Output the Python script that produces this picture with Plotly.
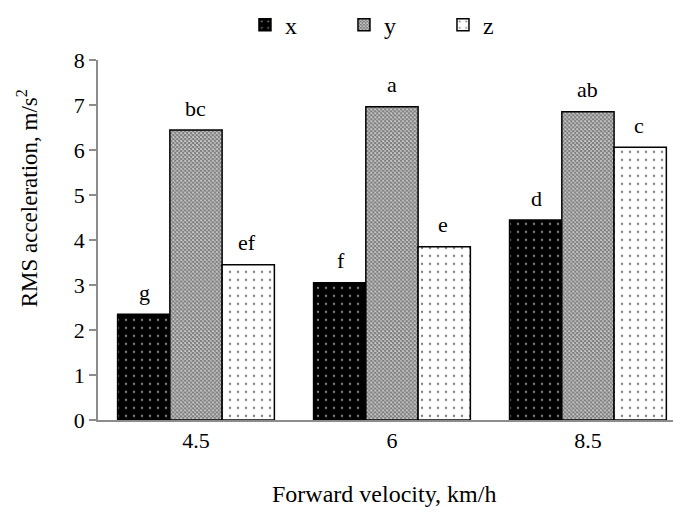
import plotly.graph_objects as go

categories = ["4.5", "6", "8.5"]
x_vals = [2.35, 3.05, 4.44]
y_vals = [6.44, 6.96, 6.85]
z_vals = [3.45, 3.85, 6.06]
x_letters = ["g", "f", "d"]
y_letters = ["bc", "a", "ab"]
z_letters = ["ef", "e", "c"]
series_names = ["x", "y", "z"]

FONT = "Liberation Serif"

fig = go.Figure()
styles = [
    dict(bg="black", fg="white", shape=".", size=8, solidity=0.07),
    dict(bg="white", fg="black", shape="x", size=2.8, solidity=0.8),
    dict(bg="white", fg="black", shape=".", size=8, solidity=0.07),
]
for name, vals, st in zip(series_names, [x_vals, y_vals, z_vals], styles):
    fig.add_trace(go.Bar(
        name=name, x=categories, y=vals,
        marker=dict(color=st["bg"],
                    line=dict(color="black", width=1.5),
                    pattern=dict(shape=st["shape"], fgcolor=st["fg"], bgcolor=st["bg"],
                                 size=st["size"], solidity=st["solidity"], fillmode="overlay")),
    ))

# letter annotations (x given as category index on the category axis)
shifts = [-51, 0, 51]
for letters, vals, sh in zip([x_letters, y_letters, z_letters], [x_vals, y_vals, z_vals], shifts):
    for i, (v, t) in enumerate(zip(vals, letters)):
        fig.add_annotation(x=i, y=v, xref="x", yref="y", text=t, showarrow=False,
                           xshift=sh, yshift=22, yanchor="middle",
                           font=dict(family=FONT, size=22, color="black"))

fig.add_annotation(text="RMS acceleration, m/s<sup>2</sup>", textangle=-90, showarrow=False,
                   xref="paper", yref="paper", x=-0.122, y=0.615, xanchor="center", yanchor="middle",
                   font=dict(family=FONT, size=23, color="black"))
fig.add_annotation(text="Forward velocity, km/h", showarrow=False,
                   xref="paper", yref="paper", x=0.497, y=-0.206, xanchor="center", yanchor="middle",
                   font=dict(family=FONT, size=24, color="black"))

fig.update_layout(
    width=673, height=513,
    margin=dict(l=98, r=0, t=56, b=93),
    paper_bgcolor="white", plot_bgcolor="white",
    barmode="group", bargap=0.2, bargroupgap=0,
    font=dict(family=FONT, color="black"),
    legend=dict(orientation="h", xref="container", yref="container", x=0.364, y=0.995,
                xanchor="left", yanchor="top", entrywidth=54, entrywidthmode="pixels",
                font=dict(family=FONT, size=24, color="black"), itemclick=False),
    xaxis=dict(type="category", range=[-0.5, 2.434], showline=True, linecolor="#8c8c8c", linewidth=2,
               ticks="", showgrid=False, tickfont=dict(family=FONT, size=22, color="black")),
    yaxis=dict(range=[0, 8], dtick=1, showline=True, linecolor="#8c8c8c", linewidth=1.5,
               ticks="outside", ticklen=7, tickcolor="#8c8c8c", tickwidth=1.5,
               showgrid=False, zeroline=False,
               tickfont=dict(family=FONT, size=22, color="black")),
)

fig.write_html("out.html")
